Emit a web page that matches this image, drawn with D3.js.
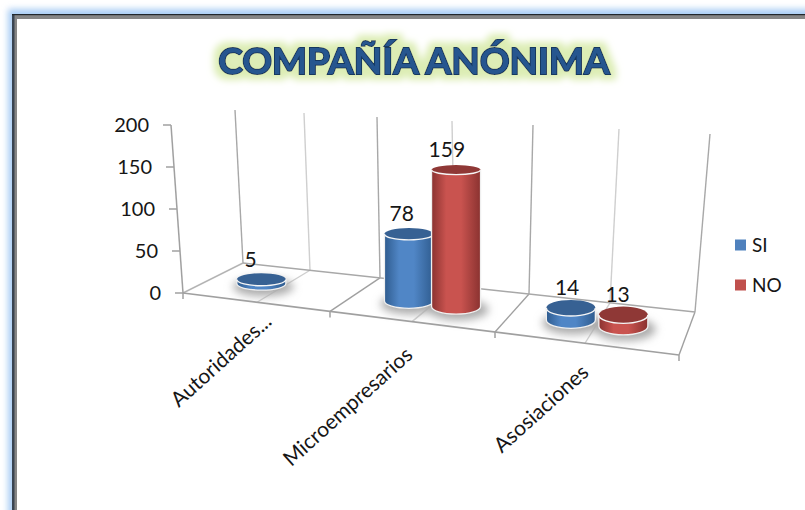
<!DOCTYPE html>
<html><head><meta charset="utf-8">
<script src="https://cdn.jsdelivr.net/npm/d3@7"></script>
<style>html,body{margin:0;padding:0;background:#fff;overflow:hidden}svg{display:block}text{font-family:Lato,"Open Sans",sans-serif;fill:#161616}</style>
</head><body><svg id="c" width="805" height="510"></svg>
<script>
const title = "COMPAÑÍA ANÓNIMA";
const categories = ["Autoridades...", "Microempresarios", "Asosiaciones"];
const seriesNames = ["SI", "NO"];
const siValues = [5, 78, 14];
const noValues = [null, 159, 13];
const yTicks = [0, 50, 100, 150, 200];
const seriesColors = {
  SI: {mid:"#5086c6", edge:"#2f5c8f", top:"#376193", swatch:"#4f81bd"},
  NO: {mid:"#c9534f", edge:"#8a3230", top:"#8f3836", swatch:"#c0504d"}
};

const svg = d3.select("#c");
const defs = svg.append("defs");
const blur = (id, s) => defs.append("filter").attr("id", id)
  .attr("x","-50%").attr("y","-50%").attr("width","200%").attr("height","200%")
  .append("feGaussianBlur").attr("stdDeviation", s);
blur("b3", 3); blur("bs", 4);

// title halo
const tf = defs.append("filter").attr("id","halo").attr("x","-10%").attr("y","-50%").attr("width","120%").attr("height","200%");
tf.append("feMorphology").attr("in","SourceAlpha").attr("operator","dilate").attr("radius",5).attr("result","d");
tf.append("feGaussianBlur").attr("in","d").attr("stdDeviation",3.5).attr("result","g");
tf.append("feFlood").attr("flood-color","#dcedb4").attr("result","f");
tf.append("feComposite").attr("in","f").attr("in2","g").attr("operator","in").attr("result","h");
const tm = tf.append("feMerge"); tm.append("feMergeNode").attr("in","h"); tm.append("feMergeNode").attr("in","SourceGraphic");

// cylinder gradients
Object.entries(seriesColors).forEach(([k,c]) => {
  const g = defs.append("linearGradient").attr("id","g"+k);
  [[0,c.edge],[.3,c.mid],[.6,c.mid],[1,c.edge]].forEach(([o,col]) =>
    g.append("stop").attr("offset",o).attr("stop-color",col));
});

// frame
svg.append("rect").attr("x",8).attr("y",9).attr("width",900).attr("height",600)
  .attr("fill","#a9cdf4").attr("filter","url(#b3)");
svg.append("rect").attr("x",12).attr("y",14).attr("width",900).attr("height",600).attr("fill","#868686");
svg.append("rect").attr("x",17).attr("y",19).attr("width",900).attr("height",600).attr("fill","#fff");
svg.append("rect").attr("x",12).attr("y",14).attr("width",2.5).attr("height",500).attr("fill","#3a4552");
svg.append("rect").attr("x",12).attr("y",14).attr("width",800).attr("height",1.2).attr("fill","#20262c");

// title
svg.append("text").text(title).attr("x",414).attr("y",74).attr("text-anchor","middle")
  .attr("font-size",37).attr("font-weight",700)
  .style("fill","#27568f").style("stroke","#17375e").style("stroke-width",2)
  .style("paint-order","stroke").attr("filter","url(#halo)");

// perspective scales along the category axis (u from 0 to number of categories)
const stops = d3.range(0, categories.length + .5, .5);
const frontX = d3.scaleLinear().domain(stops).range([183,257,330,412,495,585,679]);
const backX  = d3.scaleLinear().domain(stops).range([243,310,380,455,529,610,695]);
const topX   = d3.scaleLinear().domain(stops).range([235,304,377,452,533,619,710]);
const topY   = d3.scaleLinear().domain(stops).range([110,113,117,121,125,129,134]);
const frontY = d3.scaleLinear().domain([183,679]).range([293,355]);
const backY  = d3.scaleLinear().domain([243,695]).range([263,312]);
const yHeight = d3.scaleLinear().domain([0,200]).range([0,172]);
const yLeft = d3.scaleLinear().domain([0,200]).range([293,125]);
const xLeft = d3.scaleLinear().domain([0,200]).range([183,171]);
const ryScale = d3.scaleLinear().domain([0,categories.length]).range([6,9]);
const labelDx = d3.scaleLinear().domain([0,1,2]).range([16,2,5]);
const labelDy = d3.scaleLinear().domain([0,1,2]).range([21,35,31]);

const floor = (u,d) => {
  const fx = frontX(u), bx = backX(u);
  return [fx + (bx-fx)*d, frontY(fx) + (backY(bx)-frontY(fx))*d];
};

// walls
const grid = svg.append("g").attr("fill","none");
stops.forEach((u,i) => {
  grid.append("line").attr("x1",backX(u)).attr("y1",backY(backX(u))).attr("x2",topX(u)).attr("y2",topY(u))
    .attr("stroke", i%2 ? "#cfcfcf" : "#a8a8a8").attr("stroke-width",1.4);
  if (i>0) grid.append("line").attr("x1",backX(u)).attr("y1",backY(backX(u))).attr("x2",frontX(u)).attr("y2",frontY(frontX(u)))
    .attr("stroke", i%2 ? "#cfcfcf" : "#a0a0a0").attr("stroke-width",1.4);
});
const lastU = categories.length;
const axisLine = (x1,y1,x2,y2,col) => svg.append("line").attr("x1",x1).attr("y1",y1).attr("x2",x2).attr("y2",y2).attr("stroke",col||"#a0a0a0").attr("stroke-width",1.5);
axisLine(frontX(0),frontY(frontX(0)),backX(0),backY(backX(0)),"#b4b4b4");
axisLine(backX(0),backY(backX(0)),backX(lastU),backY(backX(lastU)),"#a8a8a8");
axisLine(frontX(0),frontY(frontX(0)),frontX(lastU),frontY(frontX(lastU)));
d3.range(0,lastU+1).forEach(u => axisLine(frontX(u),frontY(frontX(u)),frontX(u),frontY(frontX(u))+6));

// value axis
axisLine(xLeft(0),yLeft(0),xLeft(200),yLeft(200));
const valueAxis = svg.append("g");
yTicks.forEach(t => {
  axisLine(xLeft(t),yLeft(t),xLeft(t)-8,yLeft(t));
  valueAxis.append("text").text(t).attr("x",xLeft(t)-22).attr("y",yLeft(t)).attr("dy",".35em")
    .attr("text-anchor","end").attr("font-size",20);
});

// cylinders
const rx = 24.5, halfGap = .15;
const bars = [];
categories.forEach((c,i) => {
  [siValues[i], noValues[i]].forEach((v,j) => {
    if (v == null) return;
    bars.push({u:i+.5+(j?halfGap:-halfGap), v, name:seriesNames[j], j});
  });
});
const shadows = svg.append("g").attr("filter","url(#bs)");
bars.forEach(b => {
  const [x,y] = floor(b.u,.5);
  shadows.append("ellipse").attr("cx",x+1).attr("cy",y+3).attr("rx",rx+6).attr("ry",ryScale(b.u)+3).attr("fill","#ababab");
});
bars.forEach(b => {
  const [x0,y] = floor(b.u,.5);
  const x = x0 - 1;
  const h = yHeight(b.v), ry = ryScale(b.u), c = seriesColors[b.name];
  const ryTop = ry - b.v*.018;
  const g = svg.append("g");
  g.append("path").attr("d",`M${x-rx},${y-h}L${x-rx},${y}A${rx},${ry} 0 0 0 ${x+rx},${y}L${x+rx},${y-h}Z`)
    .attr("fill",`url(#g${b.name})`).attr("stroke","#efefef").attr("stroke-width",1.3);
  g.append("ellipse").attr("cx",x).attr("cy",y-h).attr("rx",rx).attr("ry",ryTop).attr("fill",c.top);
  g.append("path").attr("d",`M${x-rx},${y-h}A${rx},${ryTop} 0 0 0 ${x+rx},${y-h}`)
    .attr("fill","none").attr("stroke","#f6f6f6").attr("stroke-width",1.4);
  svg.append("text").text(b.v)
    .attr("x",x-12+3.5*b.u-(b.j?3:0)).attr("y",y-h-20).attr("dy",".35em")
    .attr("text-anchor","middle").attr("font-size",21);
});

// category labels
categories.forEach((c,i) => {
  const [x,y] = floor(i+.5,0);
  svg.append("text").text(c).attr("text-anchor","end").attr("font-size",21)
    .attr("transform",`translate(${x+labelDx(i)},${y+labelDy(i)}) rotate(-42)`);
});

// legend
const legendY = d3.scalePoint().domain(seriesNames).range([245,285]);
seriesNames.forEach(n => {
  svg.append("rect").attr("x",735).attr("y",legendY(n)-5.5).attr("width",11).attr("height",11).attr("fill",seriesColors[n].swatch);
  svg.append("text").text(n).attr("x",752).attr("y",legendY(n)).attr("dy",".35em").attr("font-size",19);
});
</script></body></html>
